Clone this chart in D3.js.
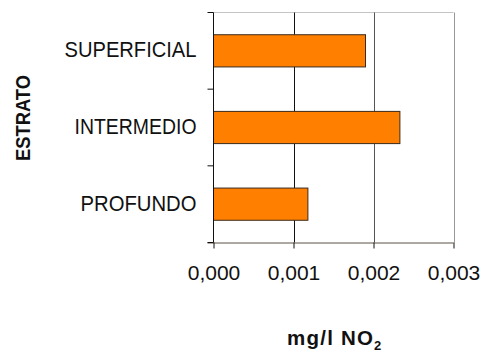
<!DOCTYPE html>
<html>
<head>
<meta charset="utf-8">
<script src="https://cdn.jsdelivr.net/npm/d3@7"></script>
<style>
  html, body { margin: 0; padding: 0; background: #fff; }
  svg { display: block; font-family: "Liberation Sans", Arial, sans-serif; }
</style>
</head>
<body>
<svg id="chart" width="485" height="354"></svg>
<script>
// Concentración de NO2 por estrato
const categories = ["SUPERFICIAL", "INTERMEDIO", "PROFUNDO"];
const values = [0.0019, 0.00233, 0.00118];
const xTicks = [0, 0.001, 0.002, 0.003];
const xTitle = "mg/l NO";
const xTitleSub = "2";
const yTitle = "ESTRATO";

const svg = d3.select("#chart");

const plot = { left: 213.5, right: 453.5, top: 12.5, bottom: 242.5 };

const x = d3.scaleLinear().domain([0, 0.003]).range([plot.left, plot.right]);
const y = d3.scaleBand()
  .domain(categories)
  .range([plot.top, plot.bottom])
  .paddingInner(0.58)
  .paddingOuter(0.29);

const fmt = d => d3.format(".3f")(d).replace(".", ",");

// plot area top border
svg.append("line")
  .attr("x1", plot.left).attr("x2", plot.right)
  .attr("y1", plot.top).attr("y2", plot.top)
  .attr("stroke", "#c4c4c4").attr("stroke-width", 1);

// vertical gridlines
const gridColors = ["#000", "#111", "#555", "#999"];
svg.append("g")
  .selectAll("line")
  .data(xTicks.slice(1))
  .join("line")
  .attr("x1", d => Math.round(x(d)) + 0.5)
  .attr("x2", d => Math.round(x(d)) + 0.5)
  .attr("y1", plot.top).attr("y2", plot.bottom)
  .attr("stroke", (d, i) => gridColors[i + 1])
  .attr("stroke-width", 1);

// bars
svg.append("g")
  .selectAll("rect")
  .data(categories.map((c, i) => ({ c, v: values[i] })))
  .join("rect")
  .attr("x", x(0))
  .attr("y", d => y(d.c))
  .attr("width", d => x(d.v) - x(0))
  .attr("height", y.bandwidth())
  .attr("fill", "#ff8000")
  .attr("stroke", "#3a2a1c")
  .attr("stroke-width", 1);

// bottom axis
const xAxis = svg.append("g")
  .attr("transform", `translate(0,${plot.bottom})`)
  .call(d3.axisBottom(x).tickValues(xTicks).tickFormat(fmt).tickSize(6).tickPadding(17).tickSizeOuter(0));
xAxis.select(".domain")
  .attr("stroke", "#5c5046")
  .attr("d", `M${plot.left - 6},0.5H${plot.right}`);
xAxis.selectAll(".tick line").attr("stroke", "#111");
xAxis.selectAll(".tick text")
  .attr("fill", "#111")
  .style("font-size", "21px");

// left axis: labels centred on bands
const yAxis = svg.append("g")
  .attr("transform", `translate(${plot.left},0)`)
  .call(d3.axisLeft(y).tickSize(0).tickPadding(17));
yAxis.select(".domain").remove();
const labelLengths = { SUPERFICIAL: 132, INTERMEDIO: 122, PROFUNDO: 116 };
yAxis.selectAll(".tick text")
  .attr("fill", "#111")
  .style("font-size", "21.5px")
  .attr("dy", "0.3em")
  .attr("textLength", d => labelLengths[d])
  .attr("lengthAdjust", "spacingAndGlyphs");

// left axis line and ticks at band boundaries
svg.append("line")
  .attr("x1", plot.left).attr("x2", plot.left)
  .attr("y1", plot.top).attr("y2", plot.bottom)
  .attr("stroke", "#111");
const bounds = d3.range(categories.length + 1).map(i => y.range()[0] + i * y.step());
svg.append("g")
  .selectAll("line")
  .data(bounds)
  .join("line")
  .attr("x1", plot.left - 6).attr("x2", plot.left)
  .attr("y1", d => d).attr("y2", d => d)
  .attr("stroke", "#111");

// axis titles
svg.append("text")
  .attr("transform", "translate(30,118) rotate(-90)")
  .attr("text-anchor", "middle")
  .attr("font-weight", "bold")
  .style("font-size", "21px")
  .attr("fill", "#111")
  .attr("textLength", 86)
  .attr("lengthAdjust", "spacingAndGlyphs")
  .text(yTitle);

svg.append("text")
  .attr("x", 287).attr("y", 345)
  .attr("font-weight", "bold")
  .style("font-size", "20.5px")
  .attr("fill", "#111")
  .attr("textLength", 86)
  .attr("lengthAdjust", "spacing")
  .text(xTitle);
svg.append("text")
  .attr("x", 374).attr("y", 349.5)
  .attr("font-weight", "bold")
  .style("font-size", "13px")
  .attr("fill", "#111")
  .text(xTitleSub);
</script>
</body>
</html>
